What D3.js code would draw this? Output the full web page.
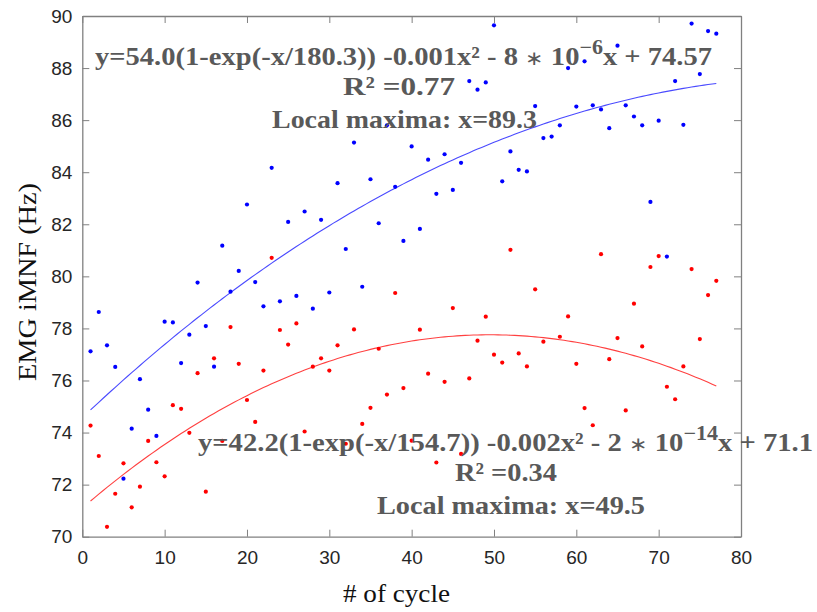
<!DOCTYPE html>
<html>
<head>
<meta charset="utf-8">
<script src="https://cdn.jsdelivr.net/npm/d3@7"></script>
<style>
  html, body { margin: 0; padding: 0; background: #fff; }
  svg { display: block; }
</style>
</head>
<body>
<svg id="chart" width="817" height="612"></svg>
<script>
// ---- data ----
const cycles = d3.range(1, 78);
const blueValues = [77.12, 78.63, 77.35, 76.52, 72.23, 74.15, 76.05, 74.88, 73.87, 78.26,
  78.23, 76.67, 77.76, 79.76, 78.09, 76.53, 81.18, 79.41, 80.21, 82.76,
  79.78, 78.85, 84.17, 79.04, 82.09, 79.25, 82.49, 78.76, 82.17, 79.38,
  83.58, 81.05, 85.14, 79.60, 83.73, 82.04, 85.80, 83.44, 81.36, 84.99,
  81.82, 84.48, 83.17, 84.69, 83.32, 84.36, 87.50, 87.17, 87.45, 89.64,
  83.65, 84.80, 84.09, 84.03, 86.54, 85.31, 85.37, 85.80, 88.00, 86.52,
  88.26, 86.57, 86.41, 85.69, 88.86, 86.57, 86.14, 85.80, 82.86, 85.98,
  80.76, 87.50, 85.82, 89.71, 87.77, 89.42, 89.32];
const redValues = [74.27, 73.10, 70.38, 71.65, 72.82, 71.13, 71.92, 73.68, 72.86, 72.32,
  75.05, 74.91, 73.99, 76.28, 71.73, 76.85, 73.68, 78.05, 76.64, 75.25,
  74.41, 76.38, 80.71, 77.94, 77.38, 78.19, 74.04, 76.53, 76.85, 76.38,
  77.35, 73.57, 77.96, 74.33, 74.95, 77.22, 75.46, 79.36, 75.71, 73.69,
  77.95, 76.26, 72.85, 75.95, 78.78, 73.18, 76.08, 77.53, 78.45, 76.99,
  76.69, 81.02, 77.04, 76.54, 79.50, 77.49, 72.25, 77.68, 78.46, 76.64,
  74.94, 74.28, 80.85, 76.82, 77.63, 74.85, 78.95, 77.31, 80.36, 80.78,
  75.76, 75.28, 76.54, 80.28, 77.59, 79.28, 79.83];
// fitted model coefficients as printed on the chart: a(1-exp(-x/b)) + c x^2 + d x + e
const blueFit = [54.0, 180.3, -0.001, -8e-6, 74.57];
const redFit = [42.2, 154.7, -0.002, -2e-14, 71.1];
const xTicks = [0, 10, 20, 30, 40, 50, 60, 70, 80];
const yTicks = [70, 72, 74, 76, 78, 80, 82, 84, 86, 88, 90];

// ---- layout ----
const svg = d3.select("#chart");
const x = d3.scaleLinear().domain([0, 80]).range([82.3, 741]);
const y = d3.scaleLinear().domain([70, 90]).range([536.7, 16]);
const axisColor = "#808080";
const tickTextColor = "#262626";
const sans = "'Liberation Sans', Arial, sans-serif";
const serif = "'Liberation Serif', 'Times New Roman', serif";

// axes (bottom/left with labels, top/right mirrored)
const gx = svg.append("g").attr("transform", `translate(0,${y(70)})`)
  .call(d3.axisBottom(x).tickValues(xTicks).tickSizeInner(-7).tickSizeOuter(0).tickPadding(14));
const gy = svg.append("g").attr("transform", `translate(${x(0)},0)`)
  .call(d3.axisLeft(y).tickValues(yTicks).tickSizeInner(-7).tickSizeOuter(0).tickPadding(10));
const gt = svg.append("g").attr("transform", `translate(0,${y(90)})`)
  .call(d3.axisTop(x).tickValues(xTicks).tickSizeInner(-7).tickSizeOuter(0).tickFormat(""));
const gr = svg.append("g").attr("transform", `translate(${x(80)},0)`)
  .call(d3.axisRight(y).tickValues(yTicks).tickSizeInner(-7).tickSizeOuter(0).tickFormat(""));
[gx, gy, gt, gr].forEach(g => {
  g.selectAll("path.domain").attr("stroke", axisColor).attr("stroke-width", 1.3);
  g.selectAll(".tick line").attr("stroke", axisColor).attr("stroke-width", 1);
  g.selectAll(".tick text").attr("fill", tickTextColor).style("font-family", sans).style("font-size", "19px");
});

// fit curves
function model(c) { return xv => c[0] * (1 - Math.exp(-xv / c[1])) + c[2] * xv * xv + c[3] * xv + c[4]; }
const curveXs = d3.range(1, 77.01, 0.5);
const line = d3.line().x(d => x(d[0])).y(d => y(d[1]));
svg.append("path").datum(curveXs.map(v => [v, model(blueFit)(v)]))
  .attr("d", line).attr("fill", "none").attr("stroke", "#4a4aff").attr("stroke-width", 1.1);
svg.append("path").datum(curveXs.map(v => [v, model(redFit)(v)]))
  .attr("d", line).attr("fill", "none").attr("stroke", "#ff4040").attr("stroke-width", 1.1);

// points
svg.append("g").selectAll("circle").data(cycles.map((c, i) => [c, blueValues[i]])).join("circle")
  .attr("cx", d => x(d[0])).attr("cy", d => y(d[1])).attr("r", 2.1).attr("fill", "#0000ff");
svg.append("g").selectAll("circle").data(cycles.map((c, i) => [c, redValues[i]])).join("circle")
  .attr("cx", d => x(d[0])).attr("cy", d => y(d[1])).attr("r", 2.1).attr("fill", "#ff0000");

// annotations
const annColor = "#595959";
function eq(xs, yb, len, pre, mult, ten, sup, post) {
  const t = svg.append("text").attr("x", xs).attr("y", yb)
    .attr("fill", annColor).style("font-family", serif).style("font-weight", "bold").style("font-size", "26px")
    .attr("textLength", len).attr("lengthAdjust", "spacingAndGlyphs");
  t.append("tspan").text(pre);
  t.append("tspan").style("font-weight", "normal").style("font-size", "20px").text(mult);
  t.append("tspan").text(ten);
  t.append("tspan").attr("dy", -11).style("font-size", "20px").text(sup);
  t.append("tspan").attr("dy", 11).text(post);
}
function plain(xs, yb, len, s) {
  svg.append("text").attr("x", xs).attr("y", yb)
    .attr("fill", annColor).style("font-family", serif).style("font-weight", "bold").style("font-size", "26px")
    .attr("textLength", len).attr("lengthAdjust", "spacingAndGlyphs").text(s);
}
eq(95, 65, 617, "y=54.0(1-exp(-x/180.3)) -0.001x\u00B2 - 8 ", "\u2217", " 10", "\u22126", "x + 74.57");
plain(343, 95, 112, "R\u00B2 =0.77");
plain(272, 128, 265, "Local maxima:  x=89.3");
eq(198, 450.5, 615, "y=42.2(1-exp(-x/154.7)) -0.002x\u00B2 - 2 ", "\u2217", " 10", "\u221214", "x + 71.1");
plain(455, 480.5, 102, "R\u00B2 =0.34");
plain(377, 514, 268, "Local maxima:  x=49.5");

// axis titles
svg.append("text").attr("x", 343).attr("y", 602).attr("fill", "#111")
  .style("font-family", serif).style("font-size", "26px")
  .attr("textLength", 107).attr("lengthAdjust", "spacingAndGlyphs").text("# of cycle");
svg.append("text").attr("transform", "translate(36,381) rotate(-90)").attr("fill", "#111")
  .style("font-family", serif).style("font-size", "26px")
  .attr("textLength", 198).attr("lengthAdjust", "spacingAndGlyphs").text("EMG iMNF (Hz)");
</script>
</body>
</html>
